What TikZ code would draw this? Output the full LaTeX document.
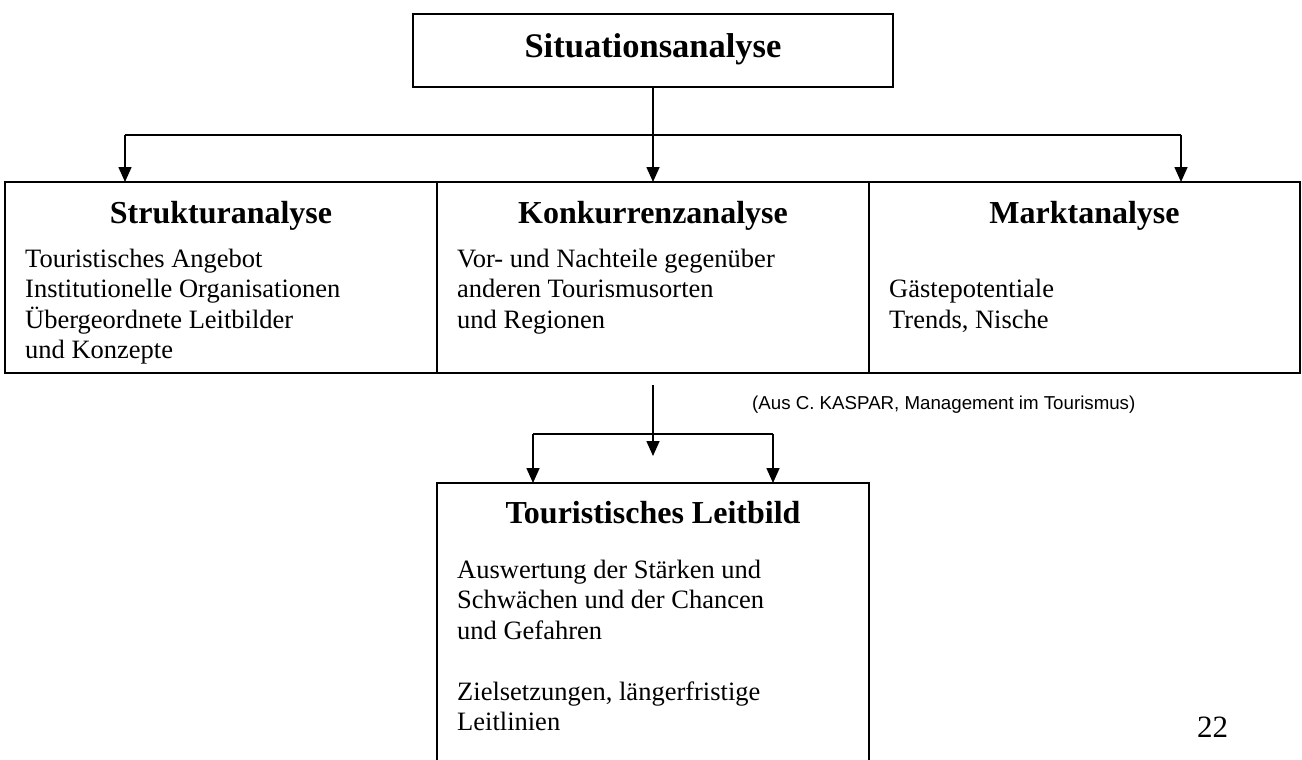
\documentclass[tikz,border=0pt]{standalone}
\usepackage{fontspec}
\setmainfont{Liberation Serif}
\newfontfamily\capfont{Liberation Sans}
\usetikzlibrary{arrows.meta}
\begin{document}
\begin{tikzpicture}[x=1pt,y=-1pt,
  box/.style={draw, line width=1.6pt, inner sep=0pt, outer sep=0pt, anchor=north west},
  conn/.style={line width=1.6pt},
  arr/.style={conn, -{Triangle[width=13pt,length=15pt]}},
  heading/.style={anchor=base, inner sep=0pt, font=\fontsize{32}{38}\selectfont\bfseries},
  body/.style={anchor=base west, inner sep=0pt, align=left, font=\fontsize{26.5}{30.5}\selectfont}]
\useasboundingbox (0,0) rectangle (1302,760);
\clip (0,0) rectangle (1302,760);

% boxes
\node[box, minimum width=480, minimum height=73] (sit) at (413,14) {};
\node[box, minimum width=432, minimum height=191] (struk) at (5,182) {};
\node[box, minimum width=432, minimum height=191] (konk) at (437,182) {};
\node[box, minimum width=431, minimum height=191] (markt) at (869,182) {};
\node[box, minimum width=432, minimum height=340] (leit) at (437,483) {};

% headings
\node[heading, font=\fontsize{34.5}{40}\selectfont\bfseries] (sitT) at (653,58) {Situationsanalyse};
\node[heading] (strukT) at (221,223) {Strukturanalyse};
\node[heading] (konkT) at (653,223) {Konkurrenzanalyse};
\node[heading] (marktT) at (1084.5,223) {Marktanalyse};
\node[heading] (leitT) at (653,523) {Touristisches Leitbild};

% contents (placed by the baseline of their last line)
\node[body] (strukB) at (25,358.5) {Touristisches Angebot\\Institutionelle Organisationen\\Übergeordnete Leitbilder\\und Konzepte};
\node[body] (konkB) at (457,328) {Vor- und Nachteile gegenüber\\anderen Tourismusorten\\und Regionen};
\node[body] (marktB) at (889,328) {Gästepotentiale\\Trends, Nische};
\node[body] (leitB) at (457,730.5) {Auswertung der Stärken und\\Schwächen und der Chancen\\und Gefahren\\[30.5pt]Zielsetzungen, längerfristige\\Leitlinien};

% source and page number
\node[anchor=base west, inner sep=0pt, font=\capfont\fontsize{18.7}{22}\selectfont] (src) at (752,409) {(Aus C. KASPAR, Management im Tourismus)};
\node[anchor=base west, inner sep=0pt, font=\fontsize{31}{36}\selectfont] (page) at (1197,737) {22};

% connectors from the situation analysis
\coordinate (bl) at (125,135);
\coordinate (br) at (1181,135);
\draw[arr] (sit.south) -- (konk.north);
\draw[conn] (bl) -- (br);
\draw[arr] (bl) -- (bl |- struk.north);
\draw[arr] (br) -- (br |- markt.north);

% connectors to the tourism model
\coordinate (m1) at (653,385);
\coordinate (m2) at (653,456);
\coordinate (hl) at (533,434);
\coordinate (hr) at (773,434);
\draw[arr] (m1) -- (m2);
\draw[conn] (hl) -- (hr);
\draw[arr] (hl) -- (hl |- leit.north);
\draw[arr] (hr) -- (hr |- leit.north);
\end{tikzpicture}
\end{document}
